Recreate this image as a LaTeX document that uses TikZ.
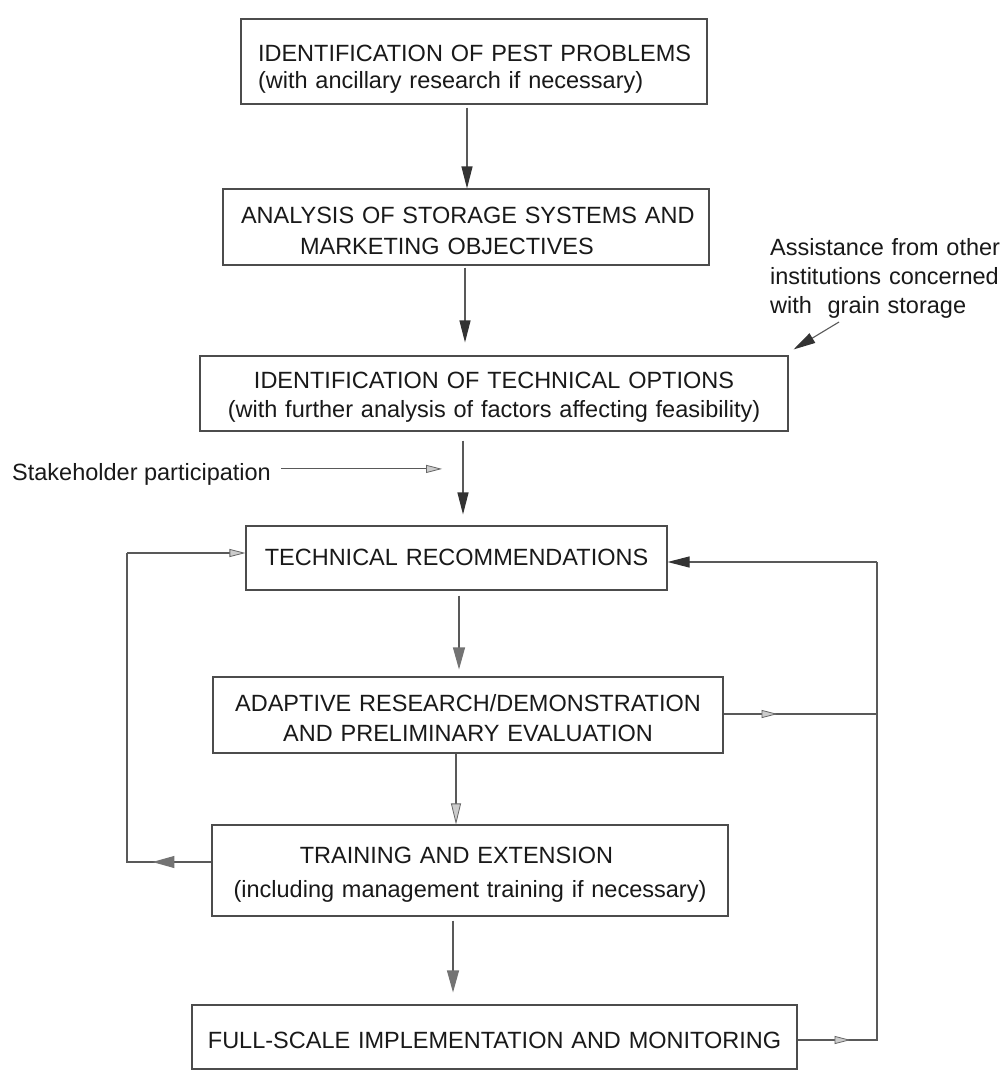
\documentclass[tikz,border=0pt]{standalone}
\usepackage{fontspec}
\setmainfont{Liberation Sans}
\usetikzlibrary{arrows.meta,calc}
\begin{document}
\begin{tikzpicture}[x=1pt,y=-1pt,
  font=\fontsize{23.5}{28}\selectfont,
  boxst/.style={draw=black!70, line width=1.1pt, inner sep=0pt, text=black!90},
  conn/.style={draw=black!65, line width=1.1pt},
  darkarr/.style={conn, -{Triangle[length=22pt,width=11pt,color=black!80,fill=black!80]}},
  grayarr/.style={conn, -{Triangle[length=22pt,width=12pt,color=black!55,fill=black!55]}},
  openarr/.style={conn, -{Triangle[length=16pt,width=8pt,color=black!60,fill=black!20,line width=0.8pt]}},
  bigopenarr/.style={conn, -{Triangle[length=21pt,width=10pt,color=black!60,fill=black!20,line width=0.8pt]}},
  txt/.style={inner sep=0pt, text=black!90}]
\useasboundingbox (0,0) rectangle (1007,1073);
\fill[white] (0,0) rectangle (1007,1073);

% boxes (text width => baseline of node text is its first line)
\node[boxst, minimum width=466pt, minimum height=85pt, text width=432pt, align=left,
      text height=30.5pt, text depth=29.5pt] (b1) at (474,61.5)
  {\mbox{IDENTIFICATION OF PEST PROBLEMS}\\[-1pt]\mbox{(with ancillary research if necessary)}};
\node[boxst, minimum width=486pt, minimum height=76pt, text width=450pt, align=left,
      text height=26pt, text depth=34pt] (b2) at (466,227)
  {\mbox{ANALYSIS OF STORAGE SYSTEMS AND}\\[3pt]\hspace*{59pt}\mbox{MARKETING OBJECTIVES}};
\node[boxst, minimum width=588pt, minimum height=75pt, text width=570pt, align=center,
      text height=24.5pt, text depth=35.5pt] (b3) at (494,393.5)
  {\mbox{IDENTIFICATION OF TECHNICAL OPTIONS}\\[1pt]\mbox{(with further analysis of factors affecting feasibility)}};
\node[boxst, minimum width=421pt, minimum height=64pt, text width=400pt, align=center,
      text height=37pt, text depth=23pt] (b4) at (456.5,558)
  {\mbox{TECHNICAL RECOMMENDATIONS}};
\node[boxst, minimum width=510pt, minimum height=76pt, text width=490pt, align=center,
      text height=26pt, text depth=34pt] (b5) at (468,715)
  {\mbox{ADAPTIVE RESEARCH/DEMONSTRATION}\\[2pt]\mbox{AND PRELIMINARY EVALUATION}};
\node[boxst, minimum width=516pt, minimum height=91pt, text width=496pt, align=center,
      text height=22.5pt, text depth=37.5pt] (b6) at (470,870.5)
  {\mbox{TRAINING AND EXTENSION\hspace*{27pt}}\\[6pt]\mbox{(including management training if necessary)}};
\node[boxst, minimum width=605pt, minimum height=64pt, text width=590pt, align=center,
      text height=41pt, text depth=19pt] (b7) at (494.5,1037)
  {\mbox{FULL-SCALE IMPLEMENTATION AND MONITORING}};

% side texts
\node[txt, anchor=base west] (stk) at (12,480) {Stakeholder participation};
\node[txt, anchor=base west, text width=240pt, align=left] (assist) at (770,255)
  {\mbox{Assistance from other}\\[1pt]\mbox{institutions concerned}\\[1pt]\mbox{with\ \ grain storage}};

% column coordinates
\coordinate (x1) at (467,0);
\coordinate (x2) at (465,0);
\coordinate (x3) at (463,0);
\coordinate (x4) at (459,0);
\coordinate (x5) at (456,0);
\coordinate (x6) at (453,0);

% main flow
\draw[darkarr, shorten <=3pt] (b1.south -| x1) -- (b2.north -| x1);
\draw[darkarr, shorten <=2pt, shorten >=13pt] (b2.south -| x2) -- (b3.north -| x2);
\draw[darkarr, shorten <=9pt, shorten >=11pt] (b3.south -| x3) -- (b4.north -| x3);
\draw[grayarr, shorten <=5pt, shorten >=7pt] (b4.south -| x4) -- (b5.north -| x4);
\draw[bigopenarr] (b5.south -| x5) -- (b6.north -| x5);
\draw[grayarr, shorten <=4pt, shorten >=12pt] (b6.south -| x6) -- (b7.north -| x6);

% stakeholder input
\draw[openarr] ([xshift=10pt,yshift=5pt]stk.east) -- ++(161,0);

% assistance input
\draw[darkarr] ([xshift=69pt,yshift=-67pt]assist.base west) -- ([xshift=5pt,yshift=6pt]b3.north east);

% right feedback loop
\coordinate (rt) at (877,562);
\coordinate (rm) at (877,714);
\coordinate (rb) at (877,1040);
\draw[conn] (b7.east |- rb) -- (rb) -- (rt);
\draw[darkarr] (rt) -- (b4.east |- rt);
\draw[openarr] (b7.east |- rb) -- ++(53,0);
\draw[conn] (b5.east |- rm) -- (rm);
\draw[openarr] (b5.east |- rm) -- ++(54,0);

% left feedback loop
\coordinate (lt) at (127,553);
\coordinate (lb) at (127,862);
\draw[conn] (b6.west |- lb) -- (lb) -- (lt);
\draw[openarr] (lt) -- (b4.west |- lt);
\draw[grayarr] (b6.west |- lb) -- ++(-59,0);
\end{tikzpicture}
\end{document}
